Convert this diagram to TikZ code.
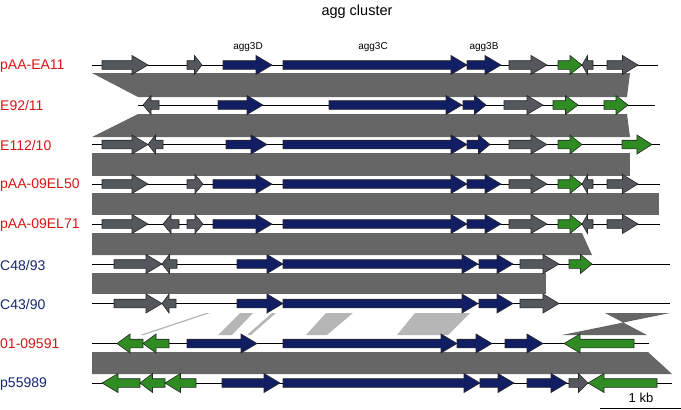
\documentclass[tikz,border=0pt]{standalone}
\usepackage{fontspec}
\setmainfont{Liberation Sans}
\usepackage{xcolor}
\usepackage{tikz}
\usetikzlibrary{positioning, calc}

\definecolor{genegray}{RGB}{84,88,92}
\definecolor{genenavy}{RGB}{18,30,100}
\definecolor{genegreen}{RGB}{46,140,34}
\definecolor{bandgray}{RGB}{102,102,102}
\definecolor{bandlight}{RGB}{182,182,182}
\definecolor{labred}{RGB}{214,22,22}
\definecolor{labblue}{RGB}{22,38,112}

% one gene arrow: colour, start, end (head side), row
\newcommand{\gene}[4]{%
	\pgfmathsetmacro{\ghd}{sign(#3-#2)*min(16,0.5*abs(#3-#2))}%
	\pgfmathsetmacro{\gnk}{#3-\ghd}%
	\filldraw[fill=#1, draw=black!85, line width=0.6pt]
	(#2,#4-4.3) -- (\gnk,#4-4.3) -- (\gnk,#4-9.5) -- (#3,#4) -- (\gnk,#4+9.5) -- (\gnk,#4+4.3) -- (#2,#4+4.3) -- cycle;
}

\tikzset{
	rowlabel/.style={anchor=west, inner sep=0pt, font=\fontsize{14}{16}\selectfont},
	genelabel/.style={inner sep=0pt, font=\fontsize{10}{12}\selectfont},
	backbone/.style={black, line width=0.8pt}
}

\begin{document}
\begin{tikzpicture}[x=1pt, y=-1pt]
	\useasboundingbox (0,0) rectangle (681,410);
	
	% Title
	\node[inner sep=0pt, font=\fontsize{14.5}{17}\selectfont] (title) at (357,12) {agg cluster};
	
	% Gene names
	\node[genelabel] (g3D) at (248,47) {agg3D};
	\node[genelabel] (g3C) at (373,47) {agg3C};
	\node[genelabel] (g3B) at (484,47) {agg3B};
	
	% Isolate names
	\node[rowlabel, text=labred] (lab1) at (0,66) {pAA-EA11};
	\node[rowlabel, text=labred] (lab2) at (0,105) {E92/11};
	\node[rowlabel, text=labred] (lab3) at (0,145) {E112/10};
	\node[rowlabel, text=labred] (lab4) at (0,185) {pAA-09EL50};
	\node[rowlabel, text=labred] (lab5) at (0,225) {pAA-09EL71};
	\node[rowlabel, text=labblue] (lab6) at (0,265) {C48/93};
	\node[rowlabel, text=labblue] (lab7) at (0,304) {C43/90};
	\node[rowlabel, text=labred] (lab8) at (0,344) {01-09591};
	\node[rowlabel, text=labblue] (lab9) at (0,384) {p55989};
	
	% Similarity bands
	\fill[bandgray] (92,73) -- (630,73) -- (627,97) -- (138,97) -- cycle;
	\fill[bandgray] (138,114) -- (627,114) -- (630,137) -- (92,137) -- cycle;
	\fill[bandgray] (92,153) rectangle (630,176);
	\fill[bandgray] (92,193) rectangle (659,215);
	\fill[bandgray] (92,233) -- (582,233) -- (592,255) -- (92,255) -- cycle;
	\fill[bandgray] (92,273) rectangle (546,294);
	\fill[bandgray] (92,352) -- (648,352) -- (672,374) -- (92,374) -- cycle;
	
	% Partial matches 01-09591 / C43/90
	\fill[bandlight] (140,335) -- (144,335) -- (210,313) -- (206,313) -- cycle;
	\fill[bandlight] (218,335) -- (232,335) -- (253,313) -- (240,313) -- cycle;
	\fill[bandlight] (247,335) -- (251,335) -- (276,313) -- (272,313) -- cycle;
	\fill[bandlight] (306,335) -- (327,335) -- (353,313) -- (326,313) -- cycle;
	\fill[bandlight] (397,335) -- (448,335) -- (470,313) -- (415,313) -- cycle;
	\fill[bandgray] (605,313) -- (670,313) -- (562,335) -- (647,335) -- cycle; % inverted
	
	% Backbones
	\draw[backbone] (92,65) -- (658,65);
	\draw[backbone] (138,105) -- (655,105);
	\draw[backbone] (92,144.5) -- (660,144.5);
	\draw[backbone] (92,184) -- (660,184);
	\draw[backbone] (92,224) -- (660,224);
	\draw[backbone] (92,264) -- (670,264);
	\draw[backbone] (92,303.5) -- (670,303.5);
	\draw[backbone] (92,343.5) -- (649,343.5);
	\draw[backbone] (92,383) -- (672,383);
	
	% Genes, row by row
	\foreach \c/\a/\b in {genegray/102/148, genegray/187/202, genenavy/223/272, genenavy/283/467, genenavy/467/501, genegray/509/547, genegreen/558/582, genegray/593/582, genegray/607/638}
	\gene{\c}{\a}{\b}{65};
	\foreach \c/\a/\b in {genegray/159/143, genenavy/218/263, genenavy/329/462, genenavy/463/486, genegray/504/543, genegreen/553/578, genegreen/604/628}
	\gene{\c}{\a}{\b}{105};
	\foreach \c/\a/\b in {genegray/102/148, genegray/163/148, genenavy/226/267, genenavy/283/467, genenavy/467/490, genegray/509/547, genegreen/558/582, genegreen/622/652}
	\gene{\c}{\a}{\b}{144.5};
	\foreach \c/\a/\b in {genegray/102/148, genegray/187/203, genenavy/213/272, genenavy/283/467, genenavy/467/501, genegray/509/547, genegreen/558/582, genegray/593/582, genegray/607/638}
	\gene{\c}{\a}{\b}{184};
	\foreach \c/\a/\b in {genegray/102/148, genegray/179/163, genegray/187/203, genenavy/213/272, genenavy/283/467, genenavy/467/501, genegray/509/547, genegreen/558/582, genegray/593/582, genegray/607/638}
	\gene{\c}{\a}{\b}{224};
	\foreach \c/\a/\b in {genegray/114/162, genegray/177/162, genenavy/237/283, genenavy/283/478, genenavy/479/513, genegray/520/559, genegreen/569/592}
	\gene{\c}{\a}{\b}{264};
	\foreach \c/\a/\b in {genegray/114/162, genegray/176/162, genenavy/237/283, genenavy/283/478, genenavy/479/513, genegray/520/559}
	\gene{\c}{\a}{\b}{303.5};
	\foreach \c/\a/\b in {genegreen/143/117, genegreen/169/143, genenavy/187/257, genenavy/283/457, genenavy/457/492, genenavy/505/543, genegreen/634/564}
	\gene{\c}{\a}{\b}{343.5};
	\foreach \c/\a/\b in {genegreen/140/102, genegreen/165/140, genegreen/196/165, genenavy/222/280, genenavy/283/480, genenavy/480/514, genenavy/527/567, genegray/569/588, genegreen/657/588}
	\gene{\c}{\a}{\b}{383};
	
	% Scale bar
	\coordinate (sbl) at (600,408);
	\coordinate (sbr) at (681,408);
	\draw[line width=0.8pt] (sbl) -- (sbr);
	\node[inner sep=0pt, font=\fontsize{13}{15}\selectfont] (sblab) at (641,398) {1 kb};
	
\end{tikzpicture}
\end{document}
